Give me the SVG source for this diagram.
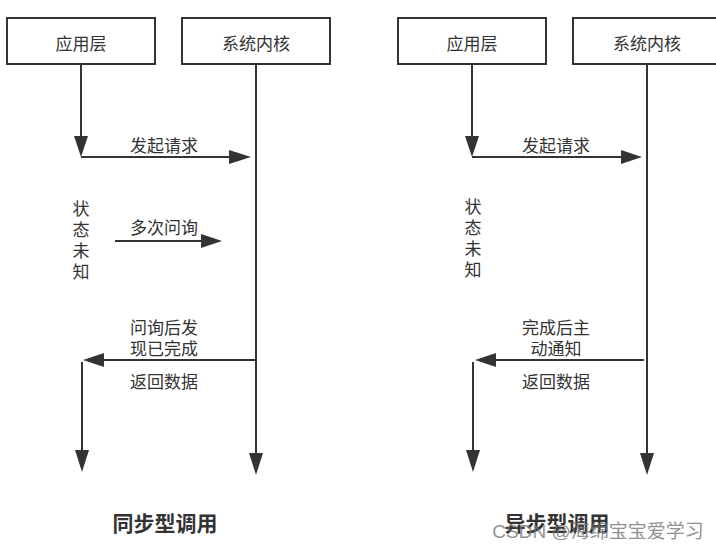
<svg xmlns="http://www.w3.org/2000/svg" width="716" height="549" viewBox="0 0 716 549">
<style>
.box{fill:#fff;stroke:#333;stroke-width:2}
.ln{stroke:#333;stroke-width:2;fill:none}
.hd{fill:#333}
text{font-family:"Noto Sans CJK SC","Liberation Sans",sans-serif;fill:#333;font-size:17px;text-anchor:middle;dominant-baseline:central}
.v{writing-mode:vertical-rl;letter-spacing:4px}
.t{font-size:21px;font-weight:bold}
.wm{fill:#777;font-size:19px;opacity:0.8;font-family:"Liberation Sans","Noto Sans CJK SC",sans-serif}
</style>
<rect width="716" height="549" fill="#fff"/>
<g id="app-left"><rect class="box" x="7" y="18" width="148" height="46"/><text x="81" y="42">应用层</text></g>
<g id="kernel-left"><rect class="box" x="182" y="18" width="148" height="46"/><text x="256" y="42">系统内核</text></g>
<g id="app-right"><rect class="box" x="398" y="18" width="148" height="46"/><text x="472" y="42">应用层</text></g>
<g id="kernel-right"><rect class="box" x="573" y="18" width="148" height="46"/><text x="647" y="42">系统内核</text></g>
<g id="connectors">
<path class="ln" d="M81 64V140"/><path class="hd" d="M74 136H88L81 157Z"/>
<path class="ln" d="M81 157H232"/><path class="hd" d="M229 150V164L251 157Z"/>
<path class="ln" d="M256 64V456"/><path class="hd" d="M249 453H263L256 475Z"/>
<path class="ln" d="M115 241H204"/><path class="hd" d="M201 234V248L222 241Z"/>
<path class="ln" d="M256 360H100"/><path class="hd" d="M104 353V367L83 360Z"/>
<path class="ln" d="M82 362V453"/><path class="hd" d="M75 450H89L82 472Z"/>
<path class="ln" d="M472 64V140"/><path class="hd" d="M465 136H479L472 157Z"/>
<path class="ln" d="M472 157H624"/><path class="hd" d="M621 150V164L642 157Z"/>
<path class="ln" d="M647 64V456"/><path class="hd" d="M640 453H654L647 475Z"/>
<path class="ln" d="M644 360H492"/><path class="hd" d="M496 353V367L475 360Z"/>
<path class="ln" d="M473 362V453"/><path class="hd" d="M466 450H480L473 472Z"/>
</g>
<g id="labels">
<text x="164" y="144">发起请求</text>
<text class="v" x="81" y="242">状态未知</text>
<text x="164" y="226">多次问询</text>
<text x="164" y="326">问询后发<tspan x="164" dy="21">现已完成</tspan></text>
<text x="164" y="380">返回数据</text>
<text class="t" x="165" y="522">同步型调用</text>
<text x="556" y="144">发起请求</text>
<text class="v" x="473" y="240">状态未知</text>
<text x="556" y="326">完成后主<tspan x="556" dy="21">动通知</tspan></text>
<text x="556" y="380">返回数据</text>
<text class="t" x="557" y="522">异步型调用</text>
<text class="wm" x="598" y="531">CSDN @海绵宝宝爱学习</text>
</g>
</svg>
